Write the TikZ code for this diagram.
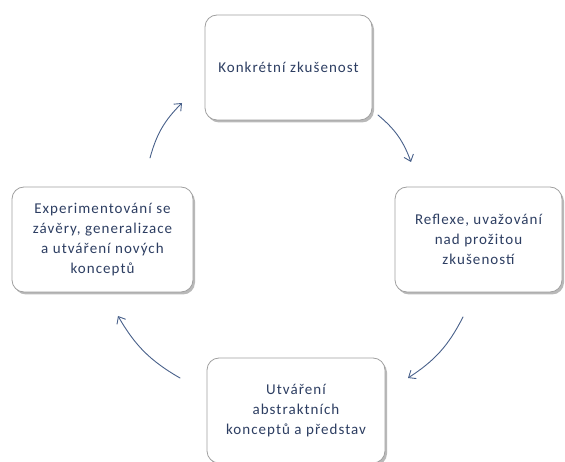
\documentclass[tikz,border=0pt]{standalone}
\usepackage{fontspec}
\setmainfont[LetterSpace=7]{Carlito}
\usetikzlibrary{shadows,arrows.meta}
\definecolor{textc}{RGB}{45,62,98}
\definecolor{arrc}{RGB}{72,96,138}
\definecolor{boxc}{RGB}{160,160,160}
\begin{document}
\begin{tikzpicture}[x=1pt,y=1pt,line join=round,line cap=round,
		font=\fontsize{15}{20}\selectfont,
		fase/.style={draw=boxc,line width=0.8pt,rounded corners=12pt,fill=white,align=center,
			text=textc,inner sep=0pt,minimum height=105pt,
			drop shadow={shadow xshift=2pt,shadow yshift=-2.5pt,opacity=.55}},
		sipka/.style={arrc,line width=0.9pt,-{Straight Barb[length=6pt,width=10pt]},bend left=15}]
	\useasboundingbox (0,0) rectangle (565,461);
	% ctyri faze cyklu
	\node[fase,minimum width=167pt] (konkr) at (288.5,393.5) {Konkrétní zkušenost};
	\node[fase,minimum width=167pt] (refl) at (478.5,221.5) {Reflexe, uvažování\\nad prožitou\\zkušeností};
	\node[fase,minimum width=178pt] (abstr) at (296,50.5) {Utváření\\abstraktních\\konceptů a představ};
	\node[fase,minimum width=181pt] (exper) at (102.5,221.5) {Experimentování se\\závěry, generalizace\\a utváření nových\\konceptů};
	% sipky
	\path (150,303) coordinate (z1) (182,358) coordinate (k1)
		(378,346) coordinate (z2) (411,299) coordinate (k2)
		(463,144) coordinate (z3) (408,83) coordinate (k3)
		(180,83) coordinate (z4) (118,145) coordinate (k4);
	\foreach \i in {1,...,4}{
		\draw[sipka] (z\i) to (k\i);
	}
\end{tikzpicture}
\end{document}
